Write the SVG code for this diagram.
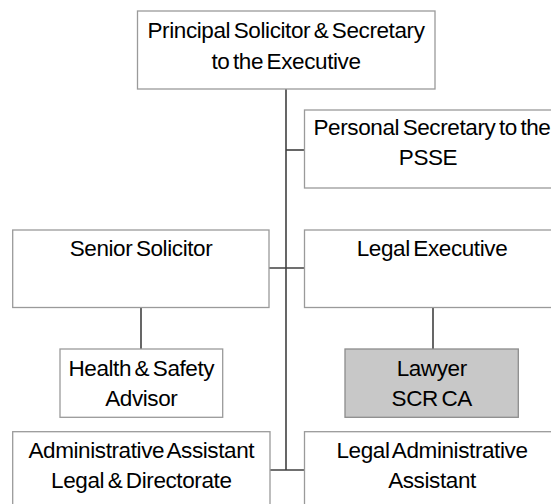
<svg xmlns="http://www.w3.org/2000/svg" width="551" height="504" viewBox="0 0 551 504">
<style>
.box{fill:#ffffff;stroke:#9a9a9a;stroke-width:1.3}
.grey{fill:#c8c8c8;stroke:#8c8c8c;stroke-width:1.3}
.con{stroke:#404040;stroke-width:1.6;fill:none}
text{font-family:"Liberation Sans",Arial,sans-serif;font-size:22.5px;fill:#000;text-anchor:middle;letter-spacing:-0.4px;word-spacing:-2.3px}
</style>
<rect width="551" height="504" fill="#ffffff"/>
<g id="connectors">
<path class="con" d="M286 89V470"/>
<path class="con" d="M286 150H304"/>
<path class="con" d="M269 268H304"/>
<path class="con" d="M141 308V349"/>
<path class="con" d="M433 308V349"/>
<path class="con" d="M270 470H304"/>
</g>
<g id="pse">
<rect class="box" x="137.5" y="11" width="297.5" height="78"/>
<text x="286" y="37.5">Principal Solicitor &amp; Secretary</text>
<text x="286" y="68.5">to the Executive</text>
</g>
<g id="personal-secretary">
<rect class="box" x="304.5" y="110" width="256" height="78"/>
<text x="432" y="135">Personal Secretary to the</text>
<text x="428" y="164.5">PSSE</text>
</g>
<g id="senior-solicitor">
<rect class="box" x="12.7" y="230" width="256.3" height="77.5"/>
<text x="141" y="255.7">Senior Solicitor</text>
</g>
<g id="legal-executive">
<rect class="box" x="304.5" y="230" width="256" height="77.5"/>
<text x="432" y="255.7">Legal Executive</text>
</g>
<g id="health-safety">
<rect class="box" x="60" y="349" width="162.7" height="68.3"/>
<text x="141.3" y="375.7">Health &amp; Safety</text>
<text x="141.3" y="406">Advisor</text>
</g>
<g id="lawyer">
<rect class="grey" x="345" y="349" width="173.3" height="68.3"/>
<text x="431.7" y="375.7">Lawyer</text>
<text x="431.7" y="406">SCR CA</text>
</g>
<g id="admin-assistant">
<rect class="box" x="12.7" y="431.7" width="257.3" height="80"/>
<text x="141.3" y="457.7">Administrative Assistant</text>
<text x="141.3" y="487.7">Legal &amp; Directorate</text>
</g>
<g id="legal-admin-assistant">
<rect class="box" x="304.5" y="431.7" width="256" height="80"/>
<text x="432" y="457.7">Legal Administrative</text>
<text x="432" y="487.7">Assistant</text>
</g>
</svg>
